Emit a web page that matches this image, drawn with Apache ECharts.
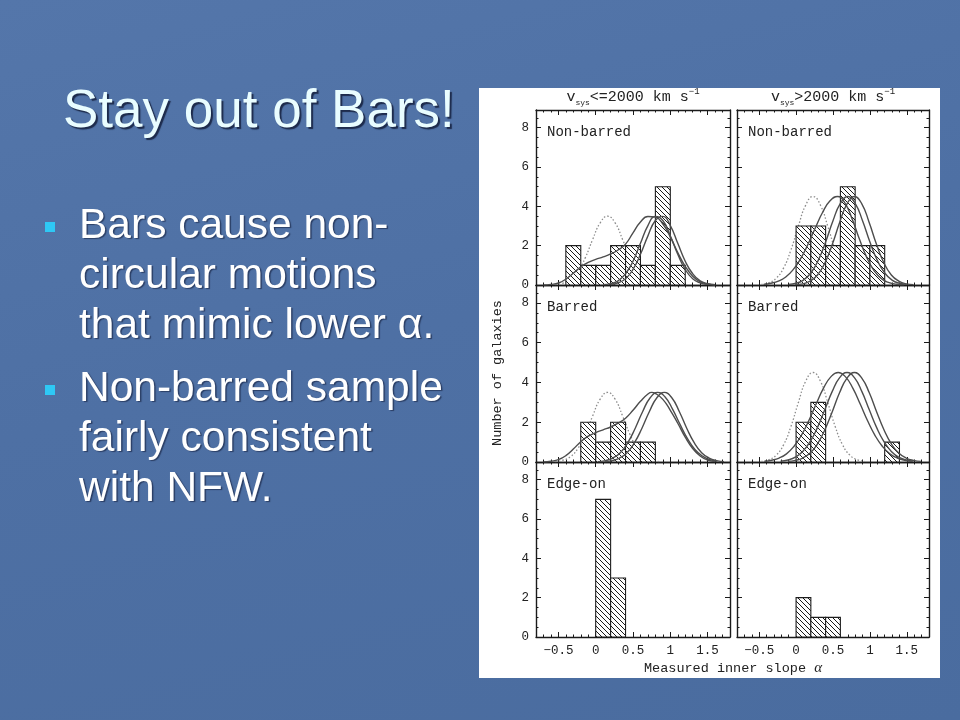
<!DOCTYPE html>
<html><head><meta charset="utf-8">
<script src="https://cdn.jsdelivr.net/npm/echarts@6/dist/echarts.min.js"></script>
<style>
html,body{margin:0;padding:0;width:960px;height:720px;overflow:hidden;}
body{background:linear-gradient(165deg,#5476aa 0%,#4e70a4 45%,#4a6c9f 100%);}
#c{width:960px;height:720px;}
</style></head><body><div id="c"></div>
<script>
// ---------- histogram bins (left edge, width 0.2) and counts ----------
const binWidth = 0.2;
const nbLowEdges = [-0.4,-0.2,0,0.2,0.4,0.6,0.8,1.0];
const nbLowCounts = [2,1,1,2,2,1,5,1];
const nbHighEdges = [0,0.2,0.4,0.6,0.8,1.0];
const nbHighCounts = [3,3,2,5,2,2];
const bLowEdges = [-0.2,0,0.2,0.4,0.6];
const bLowCounts = [2,1,2,1,1];
const bHighEdges = [0,0.2,1.2];
const bHighCounts = [2,3,1];
const eLowEdges = [0,0.2];
const eLowCounts = [7,3];
const eHighEdges = [0,0.2,0.4];
const eHighCounts = [2,1,1];

// ---------- model curves ([alpha, N]) ----------
const dotLow = [[-0.54,0.02],[-0.44,0.09],[-0.34,0.26],[-0.24,0.67],[-0.14,1.38],[-0.04,2.32],[0.06,3.16],[0.16,3.5],[0.26,3.16],[0.36,2.32],[0.46,1.38],[0.56,0.67],[0.66,0.26],[0.76,0.09],[0.86,0.02]];
const dotHigh = [[-0.47,0.03],[-0.37,0.11],[-0.27,0.34],[-0.17,0.86],[-0.07,1.78],[0.03,2.98],[0.13,4.06],[0.23,4.5],[0.33,4.06],[0.43,2.98],[0.53,1.78],[0.63,0.86],[0.73,0.34],[0.83,0.11],[0.93,0.03]];

const nbLowA = [[-0.7,0],[-0.6,0.03],[-0.5,0.1],[-0.4,0.3],[-0.3,0.6],[-0.2,0.92],[-0.1,1.15],[0,1.3],[0.1,1.43],[0.2,1.58],[0.3,1.78],[0.4,2.08],[0.5,2.65],[0.6,3.2],[0.7,3.48],[0.8,3.45],[0.9,3.1],[1.0,2.45],[1.1,1.65],[1.2,0.95],[1.3,0.45],[1.4,0.17],[1.5,0.05],[1.6,0.01]];
const nbLowB = [[0.1,0.02],[0.2,0.07],[0.3,0.21],[0.4,0.57],[0.5,1.21],[0.6,2.12],[0.7,3.02],[0.8,3.49],[0.9,3.28],[1.0,2.5],[1.1,1.56],[1.2,0.79],[1.3,0.32],[1.4,0.11],[1.5,0.03],[1.6,0.01]];
const nbLowC = [[0.2,0.02],[0.3,0.11],[0.4,0.32],[0.5,0.79],[0.6,1.56],[0.7,2.5],[0.8,3.28],[0.9,3.49],[1.0,3.02],[1.1,2.12],[1.2,1.21],[1.3,0.57],[1.4,0.21],[1.5,0.07],[1.6,0.02]];

const nbHighA = [[-0.44,0.03],[-0.34,0.09],[-0.24,0.2],[-0.14,0.41],[-0.04,0.78],[0.06,1.33],[0.16,2.06],[0.26,2.9],[0.36,3.7],[0.46,4.28],[0.56,4.5],[0.66,4.18],[0.76,3.35],[0.86,2.31],[0.96,1.38],[1.06,0.71],[1.16,0.31],[1.26,0.12],[1.36,0.04],[1.46,0.01]];
const nbHighB = [[-0.1,0.03],[0,0.09],[0.1,0.25],[0.2,0.61],[0.3,1.25],[0.4,2.19],[0.5,3.27],[0.6,4.15],[0.7,4.5],[0.8,4.15],[0.9,3.27],[1.0,2.19],[1.1,1.25],[1.2,0.61],[1.3,0.25],[1.4,0.09],[1.5,0.03]];
const nbHighC = [[-0.01,0.02],[0.09,0.06],[0.19,0.2],[0.29,0.51],[0.39,1.12],[0.49,2.06],[0.59,3.18],[0.69,4.13],[0.79,4.5],[0.89,4.13],[0.99,3.18],[1.09,2.06],[1.19,1.12],[1.29,0.51],[1.39,0.2],[1.49,0.06],[1.59,0.02]];

const bLowA = [[-0.7,0],[-0.6,0.04],[-0.5,0.12],[-0.4,0.32],[-0.3,0.65],[-0.2,1.02],[-0.1,1.3],[0,1.48],[0.1,1.62],[0.2,1.76],[0.3,1.95],[0.4,2.2],[0.5,2.6],[0.6,3.05],[0.7,3.42],[0.75,3.5],[0.8,3.45],[0.9,3.15],[1.0,2.6],[1.1,1.95],[1.2,1.25],[1.3,0.68],[1.4,0.3],[1.5,0.1],[1.6,0.02]];
const bLowB = [[0.03,0.02],[0.13,0.07],[0.23,0.2],[0.33,0.47],[0.43,0.97],[0.53,1.7],[0.63,2.54],[0.73,3.23],[0.83,3.5],[0.93,3.27],[1.03,2.66],[1.13,1.89],[1.23,1.17],[1.33,0.63],[1.43,0.3],[1.53,0.12],[1.63,0.04]];
const bLowC = [[0.12,0.02],[0.22,0.07],[0.32,0.2],[0.42,0.47],[0.52,0.97],[0.62,1.7],[0.72,2.54],[0.82,3.23],[0.92,3.5],[1.02,3.23],[1.12,2.54],[1.22,1.7],[1.32,0.97],[1.42,0.47],[1.52,0.2],[1.62,0.07],[1.72,0.02]];

const bHighA = [[-0.43,0.03],[-0.33,0.09],[-0.23,0.2],[-0.13,0.41],[-0.03,0.78],[0.07,1.33],[0.17,2.06],[0.27,2.9],[0.37,3.7],[0.47,4.28],[0.57,4.5],[0.67,4.28],[0.77,3.7],[0.87,2.9],[0.97,2.06],[1.07,1.33],[1.17,0.78],[1.27,0.41],[1.37,0.2],[1.47,0.09],[1.57,0.03]];
const bHighB = [[-0.21,0.04],[-0.11,0.1],[-0.01,0.24],[0.09,0.53],[0.19,1.02],[0.29,1.74],[0.39,2.64],[0.49,3.55],[0.59,4.24],[0.69,4.5],[0.79,4.24],[0.89,3.55],[0.99,2.64],[1.09,1.74],[1.19,1.02],[1.29,0.53],[1.39,0.24],[1.49,0.1],[1.59,0.04]];
const bHighC = [[-0.11,0.03],[-0.01,0.08],[0.09,0.2],[0.19,0.45],[0.29,0.91],[0.39,1.62],[0.49,2.53],[0.59,3.49],[0.69,4.22],[0.79,4.5],[0.89,4.22],[0.99,3.49],[1.09,2.53],[1.19,1.62],[1.29,0.91],[1.39,0.45],[1.49,0.2],[1.59,0.08],[1.69,0.03]];

// ---------- text ----------
const slideTitle = 'Stay out of Bars!';
const bullet1 = ['Bars cause non-','circular motions','that mimic lower \u03b1.'];
const bullet2 = ['Non-barred sample','fairly consistent','with NFW.'];
const panelLabels = ['Non-barred','Non-barred','Barred','Barred','Edge-on','Edge-on'];
const xTitle = '{m|Measured inner slope }{i|\u03b1}';
const yTitle = 'Number of galaxies';

// ---------- layout ----------
const MONO = "'Liberation Mono','DejaVu Sans Mono',monospace";
const SANS = "'Liberation Sans','Arial',sans-serif";
const grids = [
  {left:536, top:110, width:194, height:175},
  {left:737, top:110, width:192, height:175},
  {left:536, top:285, width:194, height:177},
  {left:737, top:285, width:192, height:177},
  {left:536, top:462, width:194, height:175},
  {left:737, top:462, width:192, height:175}
];

// hatch pattern
const hc = document.createElement('canvas');
const S = 5; hc.width = S; hc.height = S;
const hx = hc.getContext('2d');
hx.fillStyle = '#ffffff'; hx.fillRect(0,0,S,S);
hx.strokeStyle = '#1a1a1a'; hx.lineWidth = 1;
for (const k of [-1,0,1]) { hx.beginPath(); hx.moveTo(k*S,0); hx.lineTo(k*S+S,S); hx.stroke(); }
const hatch = {image: hc, repeat: 'repeat'};

function bins(edges, counts){ return edges.map((e,i)=>[e, +(e+binWidth).toFixed(2), counts[i]]); }

function xFmt(v){
  const r = Math.round(v*2)/2;
  if (Math.abs(v-r) > 1e-6 || v < -0.75 || v > 1.75) return '';
  if (r === 0) return '0';
  return String(r).replace('-','\u2212');
}
function yFmt(v){
  if (v > 8.01) return '';
  const r = Math.round(v);
  return (Math.abs(v-r) < 1e-6 && r % 2 === 0) ? String(r) : '';
}

const axisLine = {show:true, onZero:false, lineStyle:{color:'#1a1a1a', width:1.4}};
const xAxes = [], yAxes = [];
grids.forEach((g,i)=>{
  const bottomRow = i >= 4, leftCol = i % 2 === 0;
  const xBase = {type:'value', gridIndex:i, min:-0.8, max:1.8, splitNumber:5,
    axisLine, splitLine:{show:false},
    axisTick:{show:true, inside:true, length:5, lineStyle:{color:'#1a1a1a', width:1}},
    minorTick:{show:true, splitNumber:5, length:2.5, lineStyle:{color:'#1a1a1a', width:1}}};
  xAxes.push(Object.assign({}, xBase, {position:'bottom',
    axisLabel:{show:bottomRow, formatter:xFmt, fontFamily:MONO, fontSize:12.5, color:'#222', margin:7, showMinLabel:true, showMaxLabel:true}}));
  xAxes.push(Object.assign({}, xBase, {position:'top', axisLabel:{show:false}}));
  const yBase = {type:'value', gridIndex:i, min:0, max:8.9, interval:2,
    axisLine, splitLine:{show:false},
    axisTick:{show:true, inside:true, length:5, lineStyle:{color:'#1a1a1a', width:1}},
    minorTick:{show:true, splitNumber:4, length:2.5, lineStyle:{color:'#1a1a1a', width:1}}};
  yAxes.push(Object.assign({}, yBase, {position:'left',
    axisLabel:{show:leftCol, formatter:yFmt, fontFamily:MONO, fontSize:12.5, color:'#222', margin:7}}));
  yAxes.push(Object.assign({}, yBase, {position:'right', axisLabel:{show:false}}));
});

function renderBar(params, api){
  const p0 = api.coord([api.value(0), api.value(2)]);
  const p1 = api.coord([api.value(1), 0]);
  return {type:'rect', shape:{x:p0[0], y:p0[1], width:p1[0]-p0[0], height:p1[1]-p0[1]},
    style:{fill:hatch, stroke:'#1e1e1e', lineWidth:1.1}};
}
const series = [];
function addPanel(i, edges, counts, dotted, solids){
  if (dotted) series.push({type:'line', xAxisIndex:2*i, yAxisIndex:2*i, data:dotted, smooth:0.5,
    showSymbol:false, z:2, lineStyle:{color:'#8c8c8c', width:1.3, type:[1.5,2]}, silent:true});
  series.push({type:'custom', xAxisIndex:2*i, yAxisIndex:2*i, data:bins(edges,counts),
    encode:{x:[0,1], y:2}, renderItem:renderBar, z:3, clip:true, silent:true});
  (solids||[]).forEach(s=>series.push({type:'line', xAxisIndex:2*i, yAxisIndex:2*i, data:s, smooth:0.5,
    showSymbol:false, z:4, lineStyle:{color:'#4d4d4d', width:1.4}, silent:true}));
}
addPanel(0, nbLowEdges, nbLowCounts, dotLow, [nbLowA, nbLowB, nbLowC]);
addPanel(1, nbHighEdges, nbHighCounts, dotHigh, [nbHighA, nbHighB, nbHighC]);
addPanel(2, bLowEdges, bLowCounts, dotLow, [bLowA, bLowB, bLowC]);
addPanel(3, bHighEdges, bHighCounts, dotHigh, [bHighA, bHighB, bHighC]);
addPanel(4, eLowEdges, eLowCounts, null, []);
addPanel(5, eHighEdges, eHighCounts, null, []);

// graphics: white figure box, slide text, figure labels
const gfx = [{type:'rect', z:-100, shape:{x:479, y:88, width:461, height:590}, style:{fill:'#ffffff'}, silent:true}];
gfx.push({type:'text', x:63, y:112, style:{text:slideTitle, fontFamily:SANS, fontSize:53, fill:'#e9fdff',
  verticalAlign:'middle', textShadowColor:'rgba(20,30,60,0.85)', textShadowOffsetX:2, textShadowOffsetY:2, textShadowBlur:1}});
function addBullet(lines, y0, by){
  gfx.push({type:'rect', shape:{x:45, y:by, width:10, height:10}, style:{fill:'#2ec8f5'}});
  lines.forEach((t,k)=>gfx.push({type:'text', x:79, y:y0+k*50, style:{text:t, fontFamily:SANS, fontSize:42.5, fill:'#ffffff',
    verticalAlign:'middle', textShadowColor:'rgba(20,30,60,0.6)', textShadowOffsetX:1.5, textShadowOffsetY:1.5, textShadowBlur:1}}));
}
addBullet(bullet1, 226, 222);
addBullet(bullet2, 389, 385);
panelLabels.forEach((t,i)=>{
  const g = grids[i];
  gfx.push({type:'text', x:g.left+11, y:g.top+22, style:{text:t, fontFamily:MONO, fontSize:14, fill:'#222', verticalAlign:'middle'}});
});
const colRich = {m:{fontFamily:MONO, fontSize:15, lineHeight:20, verticalAlign:'middle', fill:'#222'},
  s:{fontFamily:MONO, fontSize:8, lineHeight:8, verticalAlign:'bottom', fill:'#222'},
  p:{fontFamily:MONO, fontSize:9, lineHeight:9, verticalAlign:'top', fill:'#222'}};
gfx.push({type:'text', x:633, y:97, style:{text:'{m|v}{s|sys}{m|<=2000 km s}{p|\u22121}', rich:colRich, align:'center', verticalAlign:'middle'}});
gfx.push({type:'text', x:833, y:97, style:{text:'{m|v}{s|sys}{m|>2000 km s}{p|\u22121}', rich:colRich, align:'center', verticalAlign:'middle'}});
gfx.push({type:'text', x:733, y:668, style:{text:xTitle, align:'center', verticalAlign:'middle',
  rich:{m:{fontFamily:MONO, fontSize:13.5, fill:'#222'}, i:{fontFamily:"'Liberation Serif',serif", fontStyle:'italic', fontSize:15, fill:'#222'}}}});
gfx.push({type:'text', x:497, y:373, rotation:Math.PI/2, style:{text:yTitle, fontFamily:MONO, fontSize:13.5, fill:'#222', align:'center', verticalAlign:'middle'}});

const chart = echarts.init(document.getElementById('c'), null, {renderer:'canvas'});
chart.setOption({
  backgroundColor:'transparent',
  animation:false,
  grid: grids,
  xAxis: xAxes,
  yAxis: yAxes,
  series: series,
  graphic: gfx
});
</script></body></html>
